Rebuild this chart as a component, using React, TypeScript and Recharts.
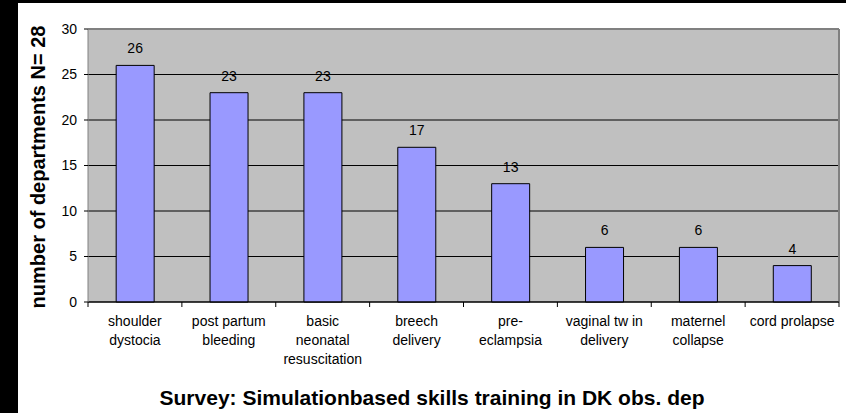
import React from "react";
import { BarChart, Bar, XAxis, YAxis, CartesianGrid, LabelList, ReferenceLine } from "recharts";

const categories = [
  "shoulder\ndystocia",
  "post partum\nbleeding",
  "basic\nneonatal\nresuscitation",
  "breech\ndelivery",
  "pre-\neclampsia",
  "vaginal tw in\ndelivery",
  "maternel\ncollapse",
  "cord prolapse",
];
const values = [26, 23, 23, 17, 13, 6, 6, 4];
const yTicks = [0, 5, 10, 15, 20, 25, 30];
const title = "Survey: Simulationbased skills training in DK obs. dep";
const yLabel = "number of departments N= 28";

const data = categories.map((c, i) => ({ name: c, value: values[i] }));

const FONT = "'Liberation Sans', Arial, sans-serif";

const XTick = (props: any) => {
  const { x, y, payload, index, width } = props;
  const n = categories.length;
  const band = width / n;
  const lines = String(payload.value).split("\n");
  const axisY = y - 5;
  return (
    <g>
      <line x1={x - band / 2} x2={x - band / 2} y1={axisY} y2={axisY + 5} stroke="#000" />
      {index === n - 1 && (
        <line x1={x + band / 2} x2={x + band / 2} y1={axisY} y2={axisY + 5} stroke="#000" />
      )}
      <text x={x} y={y} textAnchor="middle" fontFamily={FONT} fontSize={14} fill="#000">
        {lines.map((l, i) => (
          <tspan key={i} x={x} dy={19}>
            {l}
          </tspan>
        ))}
      </text>
    </g>
  );
};

export default function App() {
  return (
    <div style={{ position: "absolute", left: 0, top: 0, width: 846, height: 413, background: "#000" }}>
      <div style={{ position: "absolute", left: 18, top: 3, right: 0, bottom: 0, background: "#fff" }} />
      <div style={{ position: "absolute", left: 0, top: 0 }}>
        <BarChart
          width={846}
          height={413}
          data={data}
          margin={{ top: 29, right: 7, left: 0, bottom: 0 }}
          barCategoryGap="30%"
        >
          <CartesianGrid vertical={false} stroke="#000" fill="#C0C0C0" fillOpacity={1} />
          <XAxis
            dataKey="name"
            height={111}
            interval={0}
            axisLine={{ stroke: "#000" }}
            tickLine={{ stroke: "none" }}
            tickSize={5}
            tickMargin={0}
            tick={<XTick />}
          />
          <YAxis
            width={88}
            domain={[0, 30]}
            ticks={yTicks}
            interval={0}
            axisLine={{ stroke: "#808080" }}
            tickLine={{ stroke: "#000" }}
            tickSize={4}
            tickMargin={7}
            tick={{ fontFamily: FONT, fontSize: 14, fill: "#000" }}
          />
          <ReferenceLine y={30} stroke="#808080" strokeWidth={2} />
          <ReferenceLine x={categories[categories.length - 1]} position="end" stroke="#808080" strokeWidth={2} />
          <Bar dataKey="value" fill="#9999FF" stroke="#000" strokeWidth={1} isAnimationActive={false}>
            <LabelList dataKey="value" position="top" offset={12} fontFamily={FONT} fontSize={14} fill="#000" />
          </Bar>
        </BarChart>
      </div>
      <svg width={846} height={413} style={{ position: "absolute", left: 0, top: 0, pointerEvents: "none" }}>
        <text x={432} y={405} textAnchor="middle" fontFamily={FONT} fontSize={21} fontWeight="bold" fill="#000">
          {title}
        </text>
        <text
          transform="translate(45,167) rotate(-90)"
          textAnchor="middle"
          fontFamily={FONT}
          fontSize={20}
          fontWeight="bold"
          fill="#000"
        >
          {yLabel}
        </text>
      </svg>
    </div>
  );
}
